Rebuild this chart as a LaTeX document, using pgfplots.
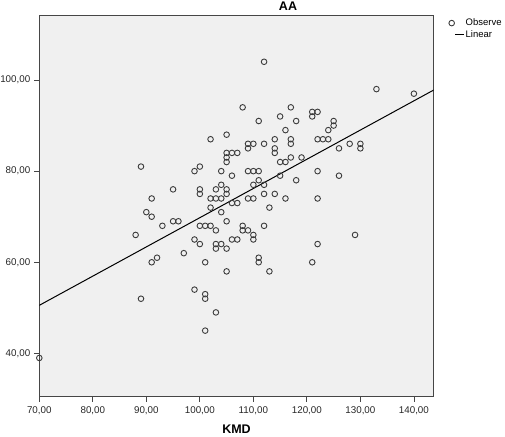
\documentclass[border=0pt]{standalone}
\usepackage{pgfplots}
\pgfplotsset{compat=1.18}
\usepackage{fontspec}
\setmainfont{Liberation Sans}

\definecolor{plotbg}{RGB}{240,240,240}
\definecolor{frame}{RGB}{70,70,70}
\definecolor{markc}{RGB}{60,60,60}

\begin{document}
\begin{tikzpicture}
\begin{axis}[
  at={(39.3pt,39.3pt)}, anchor=south west,
  scale only axis,
  width=394.4pt, height=381.4pt,
  xmin=70, xmax=143.7,
  ymin=30.5, ymax=114.2,
  axis background/.style={fill=plotbg},
  axis line style={draw=frame, line width=0.9pt},
  xtick={70,80,...,140},
  ytick={40,60,80,100},
  xtick pos=bottom, ytick pos=left,
  tick align=outside,
  major tick length=5pt,
  tick style={draw=frame, line width=0.8pt},
  /pgf/number format/.cd, fixed, fixed zerofill, precision=2, use comma, 1000 sep={}, assume math mode=true,
  /pgfplots/.cd,
  tick label style={font=\fontsize{9.8}{11}\selectfont, text=black!85},
  xticklabel style={yshift=-1pt},
  yticklabel style={xshift=-0.5pt},
  every axis title shift=0pt,
  title={AA},
  title style={at={(0.6306,1.0113)}, anchor=base, inner sep=0pt, font=\bfseries\fontsize{12.5}{14}\selectfont},
  xlabel={KMD},
  xlabel style={at={(0.5,-0.0975)}, anchor=base, font=\bfseries\fontsize{12.5}{14}\selectfont},
  legend style={draw=none, fill=none, at={(1.038,0.995)}, anchor=north west,
    font=\fontsize{9.5}{11}\selectfont, inner sep=0pt, row sep=0pt,
    nodes={inner sep=1.5pt}},
  legend cell align=left,
]
% observed values
\addplot[only marks, mark=o, mark size=2.8pt, mark options={draw=markc, line width=0.9pt},
  legend image code/.code={\draw[mark=o, mark size=2.8pt, draw=markc, line width=0.9pt] plot coordinates {(0pt,0pt)};}]
coordinates {
(70,39) (88,66) (89,81) (89,52) (90,71) (91,74) (91,70) (91,60) (92,61) (93,68)
(95,76) (95,69) (96,69) (97,62) (99,80) (99,65) (99,54) (100,81) (100,76) (100,75)
(100,68) (100,64) (101,68) (101,60) (101,53) (101,52) (101,45) (102,87) (102,74) (102,72)
(102,68) (103,76) (103,74) (103,67) (103,64) (103,63) (103,49) (104,80) (104,77) (104,74)
(104,71) (104,64) (105,88) (105,84) (105,83) (105,82) (105,76) (105,75) (105,69) (105,63)
(105,58) (106,84) (106,79) (106,73) (106,65) (107,84) (107,73) (107,65) (108,94) (108,68)
(108,67) (109,86) (109,85) (109,80) (109,74) (109,67) (110,86) (110,80) (110,77) (110,74)
(110,66) (110,65) (111,91) (111,80) (111,78) (111,61) (111,60) (112,104) (112,86) (112,77)
(112,75) (112,68) (113,72) (113,58) (114,87) (114,85) (114,84) (114,75) (115,92) (115,82)
(115,79) (116,89) (116,82) (116,74) (117,94) (117,87) (117,86) (117,83) (118,91) (118,78)
(119,83) (121,93) (121,92) (121,60) (122,93) (122,87) (122,80) (122,74) (122,64) (123,87)
(124,89) (124,87) (125,91) (125,90) (126,85) (126,79) (128,86) (129,66) (130,86) (130,85)
(133,98) (140,97)
};
\addlegendentry{Observe}
% linear fit
\addplot[black, line width=1pt,
  legend image code/.code={\draw[black, line width=1pt] (3.7pt,0pt) -- (12pt,0pt);}]
coordinates {(70,50.55) (143.7,97.8)};
\addlegendentry{Linear}
\end{axis}
\pgfresetboundingbox
\useasboundingbox (0,0) rectangle (505pt,436pt);
\end{tikzpicture}
\end{document}
